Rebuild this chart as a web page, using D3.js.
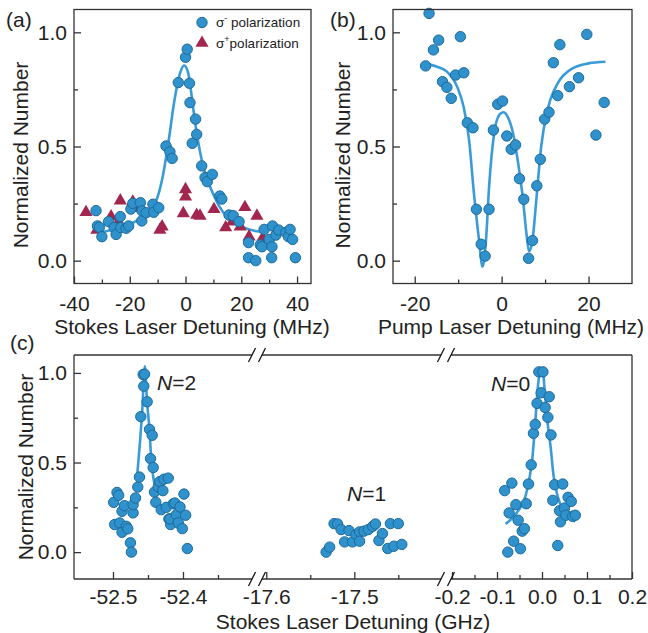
<!DOCTYPE html>
<html>
<head>
<meta charset="utf-8">
<script src="https://cdn.jsdelivr.net/npm/d3@7"></script>
<style>
  body { margin: 0; background: #fff; }
  svg text { font-family: "Liberation Sans", Arial, sans-serif; fill: #222; }
</style>
</head>
<body>
<svg id="chart" width="648" height="633"></svg>
<script>
// (a) Stokes detuning scan, MHz
const sigmaMinus = [[-32.1,0.219],[-31.6,0.152],[-30.9,0.146],[-30.0,0.105],[-27.6,0.171],[-25.6,0.145],[-24.9,0.115],
  [-23.4,0.193],[-23.2,0.145],[-21.3,0.142],[-20.4,0.152],[-19.6,0.226],[-18.9,0.251],[-16.2,0.254],[-15.7,0.174],
  [-15.6,0.218],[-14.1,0.210],[-11.7,0.247],[-11.4,0.212],[-9.6,0.232],[-7.0,0.502],[-5.6,0.477],[-4.8,0.448],
  [-2.6,0.780],[0.0,0.891],[0.6,0.926],[1.4,0.777],[1.6,0.692],[2.4,0.514],[3.6,0.620],[4.0,0.553],[5.8,0.415],
  [7.0,0.364],[7.8,0.346],[9.6,0.378],[12.3,0.283],[13.0,0.270],[15.6,0.200],[17.1,0.197],[19.2,0.171],
  [22.6,0.079],[22.6,0.013],[25.2,0.0],[26.8,0.069],[27.4,0.061],[28.2,0.137],[30.0,0.093],[30.9,0.013],
  [31.0,0.061],[31.2,0.152],[32.4,0.112],[33.4,0.134],[36.0,0.124],[36.9,0.105],[37.5,0.137],[38.4,0.093],[39.4,0.013]];
const sigmaPlus = [[-35.7,0.212],[-31.8,0.134],[-26.7,0.193],[-24.0,0.17],[-23.4,0.263],[-18.9,0.258],[-18.0,0.23],
  [-9.2,0.134],[-8.4,0.149],[-0.8,0.207],[0.0,0.312],[0.0,0.280],[4.0,0.200],[5.2,0.196],[10.2,0.225],[14.4,0.145],
  [16.8,0.171],[19.6,0.149],[21.3,0.234],[22.8,0.105],[25.6,0.196],[27.6,0.098]];
const fitA = [[-30,0.125],[-25,0.14],[-20,0.16],[-15,0.195],[-12,0.23],[-10,0.28],[-8,0.38],[-6,0.53],[-4,0.70],
  [-2,0.82],[-0.5,0.855],[1,0.82],[2,0.74],[3,0.645],[4,0.56],[5,0.49],[6,0.43],[8,0.35],[10,0.29],[12,0.24],
  [15,0.19],[20,0.15],[25,0.13],[28,0.125]];

// (b) pump detuning scan, MHz
const pumpScan = [[-16.7,1.083],[-17.5,0.853],[-15.7,0.923],[-14.5,0.966],[-13.6,0.784],[-12.6,0.759],[-11.6,0.711],
  [-10.6,0.813],[-9.5,0.981],[-8.7,0.823],[-7.9,0.604],[-6.6,0.582],[-5.8,0.225],[-4.7,0.072],[-3.8,0.020],
  [-2.9,0.225],[-1.9,0.572],[-0.9,0.685],[0.2,0.699],[1.2,0.546],[2.2,0.488],[3.2,0.507],[4.1,0.359],[5.1,0.269],
  [6.2,0.010],[7.1,0.088],[8.1,0.328],[8.9,0.444],[9.9,0.620],[10.9,0.650],[11.9,0.867],[12.9,0.723],[13.4,0.946],
  [15.6,0.762],[17.7,0.801],[19.6,0.991],[21.7,0.550],[23.6,0.693]];
const fitB = [[-17.5,0.864],[-15,0.85],[-12.6,0.828],[-10.2,0.76],[-8.7,0.67],[-7.5,0.53],[-6.4,0.30],[-5.2,0.09],
  [-4.4,-0.026],[-3.6,0.09],[-2.9,0.32],[-1.7,0.56],[-0.5,0.64],[0.4,0.65],[1.4,0.63],[2.6,0.56],[3.7,0.44],
  [4.9,0.27],[5.7,0.12],[6.3,0.04],[7.1,0.09],[8.0,0.27],[9.1,0.50],[10.7,0.67],[13,0.78],[16.1,0.84],[20,0.864],[23.9,0.871]];

// (c) Stokes detuning, GHz, three rotational lines
const lineN2 = [[-52.4990,0.278],[-52.4943,0.333],[-52.4919,0.317],[-52.4976,0.154],[-52.4904,0.163],[-52.4871,0.228],
  [-52.4871,0.111],[-52.4837,0.259],[-52.4809,0.144],[-52.4789,0.130],[-52.4751,0.052],[-52.4737,0.0],[-52.4713,0.219],
  [-52.4713,0.265],[-52.4679,0.302],[-52.4646,0.363],[-52.4622,0.419],[-52.4603,0.756],[-52.4560,0.926],[-52.4569,0.991],
  [-52.4550,0.993],[-52.4512,0.839],[-52.4478,0.685],[-52.4440,0.652],[-52.4464,0.522],[-52.4426,0.472],[-52.4407,0.335],
  [-52.4388,0.278],[-52.4354,0.365],[-52.4330,0.394],[-52.4287,0.343],[-52.4311,0.237],[-52.4273,0.407],[-52.4211,0.413],
  [-52.4239,0.250],[-52.4201,0.185],[-52.4177,0.154],[-52.4187,0.185],[-52.4139,0.270],[-52.4115,0.274],[-52.4096,0.209],
  [-52.4067,0.163],[-52.4043,0.252],[-52.4010,0.131],[-52.3986,0.324],[-52.3962,0.206],[-52.3938,0.020]];
const fitN2 = [[-52.4656,0.422],[-52.4584,0.778],[-52.4545,1.037],[-52.4512,0.83],[-52.4478,0.681],[-52.4455,0.525],
  [-52.4426,0.422],[-52.4402,0.37]];
const lineN1 = [[-17.532,0.0],[-17.528,0.028],[-17.523,0.159],[-17.519,0.157],[-17.515,0.126],[-17.511,0.057],
  [-17.506,0.120],[-17.502,0.057],[-17.498,0.098],[-17.494,0.113],[-17.494,0.061],[-17.489,0.117],[-17.484,0.126],
  [-17.479,0.144],[-17.476,0.157],[-17.472,0.065],[-17.468,0.104],[-17.462,0.020],[-17.459,0.159],[-17.455,0.033],
  [-17.450,0.159],[-17.446,0.043]];
const lineN0 = [[-0.083,0.343],[-0.067,0.385],[-0.076,0.0],[-0.073,0.219],[-0.063,0.061],[-0.058,0.265],[-0.053,0.178],
  [-0.048,0.019],[-0.044,0.117],[-0.039,0.131],[-0.035,0.270],[-0.030,0.380],[-0.024,0.487],[-0.019,0.663],
  [-0.015,0.713],[-0.011,0.830],[-0.007,1.006],[0.002,1.006],[-0.002,0.889],[0.007,0.807],[0.016,0.867],[0.013,0.752],
  [0.020,0.654],[0.028,0.376],[0.046,0.380],[0.024,0.289],[0.035,0.037],[0.039,0.231],[0.041,0.169],[0.050,0.246],
  [0.053,0.206],[0.058,0.306],[0.065,0.283],[0.068,0.200],[0.074,0.206]];
const fitN0 = [[-0.081,0.157],[-0.056,0.22],[-0.037,0.31],[-0.030,0.385],[-0.022,0.51],[-0.015,0.72],[-0.010,0.90],
  [-0.004,1.006],[0.0015,1.015],[0.006,0.90],[0.011,0.755],[0.019,0.59],[0.026,0.42],[0.035,0.31],[0.048,0.23],
  [0.063,0.19],[0.074,0.17]];

const yTicks = [0, 0.5, 1.0], yMinor = [0.25, 0.75];

const svg = d3.select("#chart");
const blue = "#2f92cc", blueEdge = "#1d6a9b", fitBlue = "#3a9bd9", wine = "#a3264f", axisCol = "#333";
const fs = 21;

function styleAxis(sel) {
  sel.attr("font-size", fs).attr("font-family", "Liberation Sans, Arial, sans-serif");
  sel.select(".domain").remove();
  sel.selectAll(".tick line").attr("stroke", axisCol).attr("stroke-width", 1.3);
  sel.selectAll(".tick text").attr("fill", "#222");
}

function addYAxis(x0, y) {
  svg.append("g").attr("transform", `translate(${x0},0)`)
    .call(d3.axisLeft(y).tickValues(yTicks).tickSize(-7).tickPadding(7).tickFormat(d => d.toFixed(1)))
    .call(styleAxis);
  svg.append("g").attr("transform", `translate(${x0},0)`)
    .call(d3.axisLeft(y).tickValues(yMinor).tickSize(-4).tickFormat(""))
    .call(styleAxis);
}

function addXAxis(y0, x, major, minor, fmt, pad = 13) {
  svg.append("g").attr("transform", `translate(0,${y0})`)
    .call(d3.axisBottom(x).tickValues(major).tickSize(-7).tickPadding(pad).tickFormat(fmt))
    .call(styleAxis);
  svg.append("g").attr("transform", `translate(0,${y0})`)
    .call(d3.axisBottom(x).tickValues(minor).tickSize(-4).tickFormat(""))
    .call(styleAxis);
}

function dots(data, x, y) {
  svg.append("g").selectAll("circle").data(data).join("circle")
    .attr("cx", d => x(d[0])).attr("cy", d => y(d[1])).attr("r", 5.2)
    .attr("fill", blue).attr("stroke", blueEdge).attr("stroke-width", 1);
}

function fit(data, x, y) {
  svg.append("path").datum(data)
    .attr("d", d3.line().x(d => x(d[0])).y(d => y(d[1])).curve(d3.curveMonotoneX))
    .attr("fill", "none").attr("stroke", fitBlue).attr("stroke-width", 2.6);
}

function frame(x0, y0, x1, y1) {
  svg.append("rect").attr("x", x0).attr("y", y0).attr("width", x1 - x0).attr("height", y1 - y0)
    .attr("fill", "none").attr("stroke", axisCol).attr("stroke-width", 1.3);
}

function text(x, y, s, opts = {}) {
  const t = svg.append("text").attr("x", x).attr("y", y).attr("font-size", opts.size || fs)
    .attr("text-anchor", opts.anchor || "start").text(s);
  if (opts.rotate) t.attr("transform", `rotate(-90,${x},${y})`);
  return t;
}

// ---------- (a)
const xA = d3.scaleLinear().domain([-40, 45]).range([74, 311]);
const yA = d3.scaleLinear().domain([-0.1, 1.1]).range([283.5, 9.5]);
addXAxis(283.5, xA, [-40, -20, 0, 20, 40], [-30, -10, 10, 30], d => d);
addYAxis(74, yA);
fit(fitA, xA, yA);
svg.append("g").selectAll("path").data(sigmaPlus).join("path")
  .attr("d", d3.symbol(d3.symbolTriangle, 75))
  .attr("transform", d => `translate(${xA(d[0])},${yA(d[1])})`)
  .attr("fill", wine);
dots(sigmaMinus, xA, yA);
frame(74, 9.5, 311, 283.5);

// legend
svg.append("circle").attr("cx", 202).attr("cy", 22.5).attr("r", 5.2).attr("fill", blue).attr("stroke", blueEdge);
svg.append("path").attr("d", d3.symbol(d3.symbolTriangle, 75)).attr("transform", "translate(202,43)").attr("fill", wine);
const l1 = text(216, 27, "σ", { size: 13.5 });
l1.append("tspan").attr("dy", -6).attr("font-size", 9).text("-");
l1.append("tspan").attr("dy", 6).text(" polarization");
const l2 = text(216, 48, "σ", { size: 13.5 });
l2.append("tspan").attr("dy", -6).attr("font-size", 9).text("+");
l2.append("tspan").attr("dy", 6).text("polarization");

text(28, 155, "Normalized Number", { anchor: "middle", rotate: true });
text(192, 334, "Stokes Laser Detuning (MHz)", { anchor: "middle" });
text(6, 27, "(a)");

// ---------- (b)
const xB = d3.scaleLinear().domain([-25, 30]).range([393, 632]);
const yB = d3.scaleLinear().domain([-0.1, 1.1]).range([283.5, 9.5]);
addXAxis(283.5, xB, [-20, 0, 20], [-10, 10], d => d);
addYAxis(393, yB);
fit(fitB, xB, yB);
dots(pumpScan, xB, yB);
frame(393, 9.5, 632, 283.5);
text(350, 155, "Normalized Number", { anchor: "middle", rotate: true });
text(511, 334, "Pump Laser Detuning (MHz)", { anchor: "middle" });
text(330, 27, "(b)");

// ---------- (c) broken x axis
const cTop = 355, cBot = 579;
const yC = d3.scaleLinear().domain([-0.15, 1.1]).range([cBot, cTop]);
const x1 = d3.scaleLinear().domain([-52.5557, -52.3]).range([74, 253]);
const x2 = d3.scaleLinear().domain([-17.606, -17.4]).range([261, 442.3]);
const x3 = d3.scaleLinear().domain([-0.2, 0.2]).range([452, 632]);
addXAxis(cBot, x1, [-52.5, -52.4], [-52.45, -52.35], d => d.toFixed(1), 10);
addXAxis(cBot, x2, [-17.6, -17.5], [-17.55, -17.45], d => d.toFixed(1), 10);
addXAxis(cBot, x3, [-0.2, -0.1, 0, 0.1, 0.2], [-0.15, -0.05, 0.05, 0.15], d => d.toFixed(1), 10);
addYAxis(74, yC);

fit(fitN2, x1, yC);
fit(fitN0, x3, yC);
dots(lineN2, x1, yC);
dots(lineN1, x2, yC);
dots(lineN0, x3, yC);

// frame pieces with gaps at the breaks
const pieces = [[74, 252], [262, 441], [451, 632]];
[cTop, cBot].forEach(yy => {
  pieces.forEach(p => {
    svg.append("line").attr("x1", p[0]).attr("x2", p[1]).attr("y1", yy).attr("y2", yy)
      .attr("stroke", axisCol).attr("stroke-width", 1.3);
  });
  [252, 262, 441, 451].forEach(bx => {
    svg.append("line").attr("x1", bx - 3.5).attr("x2", bx + 3.5).attr("y1", yy + 7).attr("y2", yy - 7)
      .attr("stroke", "#111").attr("stroke-width", 1.3);
  });
});
[74, 632].forEach(xx => {
  svg.append("line").attr("x1", xx).attr("x2", xx).attr("y1", cTop).attr("y2", cBot)
    .attr("stroke", axisCol).attr("stroke-width", 1.3);
});

function nLabel(x, y, n) {
  const t = text(x, y, "");
  t.append("tspan").attr("font-style", "italic").text("N");
  t.append("tspan").text("=" + n);
}
nLabel(157, 390, 2);
nLabel(347, 501, 1);
nLabel(491, 391, 0);

text(33, 467, "Normalized Number", { anchor: "middle", rotate: true });
text(353, 629, "Stokes Laser Detuning (GHz)", { anchor: "middle" });
text(10, 350, "(c)");
</script>
</body>
</html>
